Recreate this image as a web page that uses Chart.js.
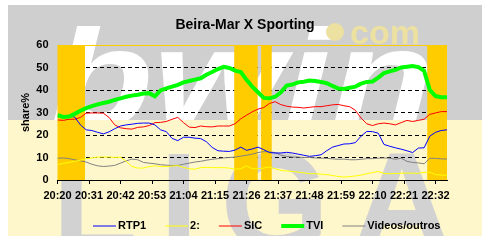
<!DOCTYPE html>
<html>
<head>
<meta charset="utf-8">
<script src="https://cdn.jsdelivr.net/npm/chart.js@4/dist/chart.umd.min.js"></script>
<style>
  html, body { margin: 0; padding: 0; background: #ffffff; }
  #wrap { width: 491px; height: 244px; position: relative; }
</style>
</head>
<body>
<div id="wrap"><canvas id="shareChart"></canvas></div>
<script>
// minutes after 20:20
const minutes = [0,2,4,6,8,10,12,14,16,18,20,22,24,26,28,30,32,34,36,38,40,42,44,46,48,50,52,54,56,58,60,62,64,66,68,70,
  72,74,76,78,80,82,84,86,88,90,92,94,96,98,100,102,104,106,108,110,112,114,116,118,120,122,124,126,128,130,132,134,136];

const rtp1 = [28.2,28.0,28.3,28.0,24.5,22.3,22.0,21.2,20.5,21.4,22.8,24.0,24.5,24.8,25.2,25.3,25.3,24.5,22.3,21.5,18.5,17.5,19.0,19.0,
  18.6,18.4,17.0,14.5,13.0,12.8,12.7,13.3,14.6,13.2,13.8,14.6,13.5,12.2,12.0,12.0,12.3,12.0,11.5,11.0,10.5,10.8,11.2,13.0,14.6,15.3,
  16.0,16.1,16.6,19.5,21.6,21.5,20.8,15.8,15.0,14.3,13.7,13.0,12.2,14.2,14.3,19.5,21.2,22.0,22.3];
const canal2 = [6.8,7.4,7.8,8.3,8.8,9.5,9.8,10.2,10.2,10.2,10.0,10.2,8.3,6.0,5.3,5.3,6.0,6.3,6.0,6.0,6.2,6.4,5.6,5.0,
  4.8,5.5,5.6,5.5,5.5,5.5,5.3,4.8,5.0,6.3,5.0,5.0,5.3,5.8,5.0,4.3,4.0,3.8,3.5,3.2,2.8,2.8,2.6,2.4,2.0,1.6,
  1.3,1.5,1.8,2.2,2.8,3.3,3.8,2.9,2.8,2.9,3.0,3.1,3.0,3.0,3.4,3.4,2.4,2.2,2.1];
const sic = [26.7,26.5,27.0,27.0,27.8,29.7,29.8,29.8,29.7,27.8,24.5,23.2,22.8,22.6,23.4,23.6,24.2,25.5,25.6,26.0,27.0,27.8,25.5,23.5,
  23.3,24.0,23.7,23.6,24.0,24.0,24.0,25.0,27.2,28.8,30.3,31.5,32.2,34.0,34.8,33.5,32.8,32.4,32.3,32.0,32.3,32.6,32.6,33.0,33.4,33.6,
  33.0,32.6,31.0,27.5,25.0,24.2,25.0,25.3,25.0,24.5,25.5,26.5,26.0,26.5,27.0,29.2,29.8,30.4,30.4];
const tvi = [28.8,28.0,28.2,29.4,30.8,31.9,32.8,33.6,34.2,34.8,35.6,36.3,37.0,37.5,37.9,38.4,38.6,37.2,39.8,40.7,41.5,42.3,43.4,44.0,
  44.6,45.2,46.8,48.0,49.3,50.3,49.8,48.6,48.0,44.5,41.5,39.0,36.5,36.3,37.0,39.0,42.0,42.4,43.4,43.7,44.2,44.0,43.6,43.0,41.8,40.7,
  40.5,41.0,41.5,42.8,43.6,43.8,45.5,47.5,48.3,49.0,50.0,50.3,50.7,50.2,48.5,40.0,37.3,36.8,36.8];
const outros = [9.7,9.8,9.5,9.0,8.5,8.0,7.0,6.3,6.0,6.2,6.5,7.5,8.5,9.3,9.0,7.8,7.5,7.2,6.8,6.6,6.4,6.5,7.0,7.5,
  8.0,8.3,8.8,9.2,9.5,9.8,10.0,10.2,10.6,11.0,11.5,12.2,12.6,12.5,12.2,11.0,10.5,10.2,10.2,10.0,10.0,9.8,9.7,9.6,9.4,9.2,
  9.3,9.0,9.0,9.2,9.5,9.5,9.7,9.8,9.7,9.2,9.7,8.3,7.8,7.6,7.2,9.7,9.6,9.4,9.3];

const tickMinutes = [0,11,22,33,44,55,66,77,88,99,110,121,132];
const tickLabels = ['20:20','20:31','20:42','20:53','21:04','21:15','21:26','21:37','21:48','21:59','22:10','22:21','22:32'];

// shaded periods (minutes after 20:20)
const bandStart = [0, 61.7, 71.1, 129.1];
const bandEnd = [9.6, 69.9, 74.8, 136];

const seriesNames = ['RTP1', '2:', 'SIC', 'TVI', 'Videos/outros'];
const seriesColors = ['#0000ff', '#ffff00', '#ff0000', '#00ff00', '#808080'];
const seriesWidths = [1, 1, 1, 4, 1];
const seriesValues = [rtp1, canal2, sic, tvi, outros];

Chart.defaults.font.family = "'Liberation Sans', Arial, sans-serif";
Chart.defaults.color = '#000000';

const FONT = "'Liberation Sans', Arial, sans-serif";

// panel background with the sponsor watermark
const backdrop = {
    id: 'backdrop',
    beforeDraw(chart) {
        const c = chart.ctx;
        c.save();
        c.fillStyle = '#ffffff';
        c.fillRect(0, 0, chart.width, chart.height);
        c.fillStyle = '#cfcfcf';
        c.fillRect(8, 5, 474, 115);
        c.fillStyle = '#fff7cc';
        c.fillRect(8, 120, 474, 116);

        // bwin (white, top half)
        c.save();
        c.beginPath(); c.rect(8, 5, 474, 115); c.clip();
        c.fillStyle = '#ffffff';
        c.font = 'bold italic 135px ' + FONT;
        c.setTransform(1.25, 0, 0, 1, 0, 0);
        c.fillText('bwin', 40, 124);
        c.restore();

        // .com
        c.fillStyle = '#ece1a0';
        c.beginPath(); c.arc(335, 32, 9, 0, Math.PI * 2); c.fill();
        c.font = 'bold 34px ' + FONT;
        c.fillText('com', 350, 44);

        // LIGA (grey, bottom half)
        c.save();
        c.beginPath(); c.rect(8, 120, 474, 116); c.clip();
        c.fillStyle = '#d2d2d2';
        c.font = 'bold 140px ' + FONT;
        c.letterSpacing = '22px';
        c.fillText('LIGA', 52, 250);
        c.restore();
        c.restore();
    },
    beforeDatasetsDraw(chart) {
        const c = chart.ctx, x = chart.scales.x, a = chart.chartArea;
        c.save();
        c.fillStyle = '#ffcc00';
        for (let i = 0; i < bandStart.length; i++) {
            const x0 = x.getPixelForValue(bandStart[i]);
            const x1 = x.getPixelForValue(bandEnd[i]);
            c.fillRect(x0, a.top, x1 - x0, a.bottom - a.top);
        }
        c.strokeStyle = '#ffcc00';
        c.lineWidth = 1;
        c.beginPath(); c.moveTo(a.left, a.top + 0.5); c.lineTo(a.right, a.top + 0.5); c.stroke();
        c.restore();
    },
    afterDraw(chart) {
        const c = chart.ctx;
        c.save();
        c.fillStyle = '#000000';
        c.font = 'bold 14px ' + FONT;
        c.textAlign = 'center';
        c.textBaseline = 'middle';
        c.fillText('Beira-Mar X Sporting', 245, 25);

        // legend
        c.font = 'bold 11px ' + FONT;
        c.textAlign = 'left';
        let lx = 93;
        const ly = 226;
        chart.data.datasets.forEach(ds => {
            c.strokeStyle = ds.borderColor;
            c.lineWidth = ds.borderWidth;
            c.beginPath(); c.moveTo(lx, ly); c.lineTo(lx + 23, ly); c.stroke();
            c.fillText(ds.label, lx + 25, ly);
            lx += 25 + c.measureText(ds.label).width + 19;
        });
        c.restore();
    }
};

const datasets = seriesNames.map((name, k) => ({
    label: name,
    data: minutes.map((m, i) => ({ x: m, y: seriesValues[k][i] })),
    borderColor: seriesColors[k],
    backgroundColor: seriesColors[k],
    borderWidth: seriesWidths[k],
    pointRadius: 0,
    tension: 0,
    fill: false,
    order: name === 'TVI' ? 0 : 1
}));

new Chart(document.getElementById('shareChart'), {
    type: 'line',
    data: { datasets: datasets },
    options: {
        responsive: true, maintainAspectRatio: false, animation: false,
        layout: { padding: { left: 7.5, right: 44, top: 45, bottom: 34 } },
        plugins: { legend: { display: false }, title: { display: false }, tooltip: { enabled: false } },
        scales: {
            x: {
                type: 'linear', min: 0, max: 136,
                afterBuildTicks: s => { s.ticks = tickMinutes.map(v => ({ value: v })); },
                afterFit: s => { s.height = 30; },
                ticks: { autoSkip: false, maxRotation: 0, padding: 5, font: { size: 11, weight: 'bold' },
                         callback: (v, i) => tickLabels[i] },
                grid: { drawOnChartArea: false, drawTicks: true, tickLength: 4, color: '#000000' },
                border: { display: true, color: '#000000', width: 1 }
            },
            y: {
                min: 0, max: 60,
                afterFit: s => { s.width = 50; },
                ticks: { stepSize: 10, padding: 9, font: { size: 11, weight: 'bold' } },
                title: { display: true, text: 'share%', font: { size: 11, weight: 'bold' }, padding: { top: 12, bottom: 0 } },
                grid: { drawTicks: false, color: ctx => (ctx.tick.value > 0 && ctx.tick.value < 60) ? '#000000' : 'rgba(0,0,0,0)' },
                border: { display: false, dash: [4, 3] }
            }
        }
    },
    plugins: [backdrop]
});
</script>
</body>
</html>
